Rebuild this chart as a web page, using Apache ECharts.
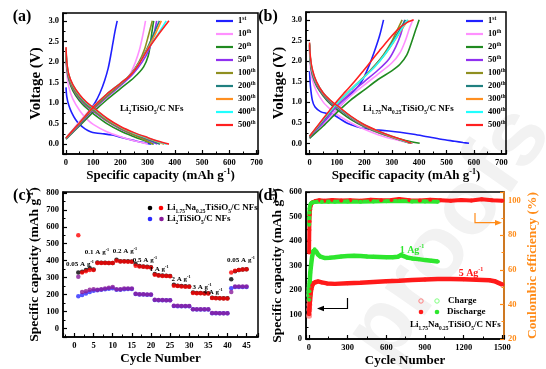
<!DOCTYPE html>
<html><head><meta charset="utf-8">
<script src="https://cdn.jsdelivr.net/npm/echarts@6/dist/echarts.min.js"></script>
<style>html,body{margin:0;padding:0;background:#fff}#c{width:546px;height:369px}</style>
</head><body><div id="c"></div>
<script>
// ---------- DATA ----------
const cycleNames = ['1st','10th','20th','50th','100th','200th','300th','400th','500th'];
// (a) Li2TiSiO5/C NFs  [capacity mAh/g, voltage V]
const a1d = [[0,1.38],[3,1.15],[10,0.95],[20,0.78],[35,0.6],[50,0.48],[70,0.37],[90,0.3],[110,0.27],[140,0.25],[170,0.22],[200,0.17],[230,0.12],[260,0.07],[290,0.03],[312,0.0]];
const a1c = [[0,0.15],[25,0.3],[51,0.5],[80,0.75],[106,1.0],[125,1.25],[142,1.55],[155,1.85],[164,2.15],[172,2.45],[180,2.75],[188,3.0]];
const a10d = [[0,2.05],[3,1.7],[10,1.4],[25,1.1],[50,0.82],[75,0.62],[100,0.48],[150,0.3],[200,0.18],[250,0.08],[285,0.03],[300,0.0]];
const a10c = [[0,0.15],[50,0.55],[100,0.92],[150,1.2],[200,1.45],[235,1.7],[255,2.0],[270,2.3],[282,2.65],[292,3.0]];
const a20d = [[0,2.2],[3,1.85],[10,1.58],[25,1.3],[50,1.05],[75,0.88],[100,0.74],[150,0.5],[200,0.32],[250,0.18],[290,0.08],[322,0.0]];
const a20c = [[0,0.12],[50,0.45],[100,0.78],[150,1.08],[200,1.35],[250,1.62],[285,1.88],[302,2.15],[310,2.45],[316,2.75],[322,3.0]];
const a50d = [[0,2.25],[3,1.9],[10,1.62],[25,1.35],[50,1.1],[75,0.93],[100,0.8],[150,0.56],[200,0.37],[250,0.22],[300,0.1],[335,0.0]];
const a50c = [[0,0.13],[50,0.48],[100,0.84],[150,1.14],[200,1.42],[245,1.7],[280,2.0],[305,2.3],[320,2.6],[333,3.0]];
const a100d = [[0,2.25],[3,1.9],[10,1.63],[25,1.37],[50,1.12],[75,0.95],[100,0.82],[150,0.57],[200,0.38],[250,0.22],[290,0.1],[318,0.0]];
const a100c = [[0,0.14],[50,0.5],[100,0.86],[150,1.17],[200,1.45],[240,1.72],[268,2.0],[288,2.3],[303,2.65],[317,3.0]];
const a200d = [[0,2.3],[3,1.95],[10,1.67],[25,1.41],[50,1.16],[75,0.98],[100,0.85],[150,0.6],[200,0.4],[250,0.25],[300,0.12],[345,0.0]];
const a200c = [[0,0.14],[50,0.5],[100,0.88],[150,1.2],[200,1.47],[238,1.7],[268,1.98],[296,2.3],[320,2.65],[343,3.0]];
const a300d = [[0,2.32],[3,1.97],[10,1.68],[25,1.43],[50,1.18],[75,1.0],[100,0.87],[150,0.61],[200,0.41],[250,0.26],[300,0.14],[335,0.06],[360,0.0]];
const a300c = [[0,0.15],[50,0.52],[100,0.9],[150,1.21],[200,1.48],[236,1.68],[266,1.95],[295,2.27],[322,2.6],[350,3.0]];
const a400d = [[0,2.33],[3,1.98],[10,1.69],[25,1.44],[50,1.19],[75,1.01],[100,0.88],[150,0.62],[200,0.42],[250,0.27],[300,0.15],[340,0.06],[370,0.0]];
const a400c = [[0,0.15],[50,0.52],[100,0.9],[150,1.22],[200,1.48],[235,1.67],[265,1.93],[295,2.25],[330,2.6],[368,3.0]];
const a500d = [[0,2.36],[3,2.0],[10,1.7],[25,1.45],[50,1.2],[75,1.02],[100,0.89],[150,0.63],[200,0.43],[250,0.28],[300,0.16],[340,0.07],[378,0.0]];
const a500c = [[0,0.15],[50,0.52],[100,0.9],[150,1.22],[200,1.48],[234,1.66],[265,1.92],[295,2.25],[332,2.6],[378,3.0]];
// (b) Li1.75Na0.25TiSiO5/C NFs
const b1d = [[0,1.75],[3,1.4],[10,1.05],[20,0.88],[40,0.77],[60,0.73],[85,0.7],[110,0.6],[140,0.48],[170,0.41],[200,0.36],[240,0.33],[290,0.3],[330,0.27],[380,0.22],[430,0.16],[480,0.1],[530,0.05],[560,0.02],[582,0.0]];
const b1c = [[0,0.15],[50,0.48],[100,0.82],[150,1.18],[190,1.5],[215,1.85],[235,2.2],[255,2.6],[270,3.0]];
const b10d = [[0,2.2],[3,1.85],[10,1.55],[25,1.27],[50,1.0],[75,0.83],[100,0.7],[150,0.5],[200,0.34],[250,0.21],[300,0.11],[345,0.04],[378,0.0]];
const b10c = [[0,0.13],[50,0.45],[100,0.82],[150,1.15],[200,1.42],[250,1.68],[300,1.95],[330,2.2],[350,2.5],[365,2.8],[377,3.0]];
const b20d = [[0,2.3],[3,1.95],[10,1.67],[25,1.4],[50,1.15],[75,0.96],[100,0.82],[150,0.58],[200,0.4],[250,0.26],[300,0.16],[350,0.07],[402,0.0]];
const b20c = [[0,0.12],[50,0.42],[100,0.75],[150,1.05],[200,1.3],[250,1.55],[300,1.76],[330,1.92],[355,2.15],[372,2.45],[387,2.75],[400,3.0]];
const b50d = [[0,2.35],[3,2.0],[10,1.7],[25,1.44],[50,1.18],[75,1.0],[100,0.87],[150,0.62],[200,0.42],[250,0.27],[300,0.15],[340,0.06],[370,0.0]];
const b50c = [[0,0.15],[50,0.52],[100,0.9],[150,1.22],[200,1.5],[250,1.78],[290,2.05],[315,2.35],[333,2.65],[347,3.0]];
const b100d = [[0,2.38],[3,2.02],[10,1.72],[25,1.46],[50,1.2],[75,1.02],[100,0.89],[150,0.63],[200,0.43],[250,0.27],[300,0.15],[340,0.06],[368,0.0]];
const b100c = [[0,0.16],[50,0.56],[100,0.96],[150,1.3],[200,1.62],[240,1.9],[270,2.15],[298,2.45],[320,2.75],[338,3.0]];
const b200d = [[0,2.4],[3,2.04],[10,1.74],[25,1.47],[50,1.21],[75,1.03],[100,0.9],[150,0.64],[200,0.44],[250,0.28],[300,0.16],[340,0.07],[372,0.0]];
const b200c = [[0,0.16],[50,0.56],[100,0.96],[150,1.3],[200,1.62],[240,1.9],[272,2.15],[302,2.45],[328,2.75],[350,3.0]];
const b300d = [[0,2.42],[3,2.06],[10,1.76],[25,1.48],[50,1.21],[75,1.04],[100,0.91],[150,0.65],[200,0.44],[250,0.29],[300,0.16],[340,0.07],[375,0.0]];
const b300c = [[0,0.17],[50,0.58],[100,0.97],[150,1.3],[200,1.62],[240,1.88],[274,2.15],[306,2.45],[335,2.75],[360,3.0]];
const b400d = [[0,2.43],[3,2.07],[10,1.77],[25,1.49],[50,1.22],[75,1.04],[100,0.91],[150,0.65],[200,0.45],[250,0.29],[300,0.17],[340,0.07],[373,0.0]];
const b400c = [[0,0.17],[50,0.58],[100,0.97],[150,1.3],[200,1.61],[240,1.87],[273,2.14],[305,2.45],[333,2.75],[358,3.0]];
const b500d = [[0,2.45],[3,2.1],[10,1.8],[25,1.5],[50,1.22],[75,1.05],[100,0.92],[150,0.66],[200,0.45],[250,0.3],[300,0.17],[340,0.08],[372,0.0]];
const b500c = [[0,0.17],[50,0.6],[97,1.0],[130,1.25],[164,1.5],[195,1.75],[225,2.0],[255,2.25],[286,2.5],[320,2.75],[352,2.92],[380,3.0]];
// (c) rate capability
const rateCycles = [1,2,3,4,5,6,7,8,9,10,11,12,13,14,15,16,17,18,19,20,21,22,23,24,25,26,27,28,29,30,31,32,33,34,35,36,37,38,39,40,41,42,43,44,45];
const lnChg = [330,335,345,355,348,390,388,388,387,387,405,397,396,396,395,380,368,366,364,362,322,314,312,311,310,258,252,250,249,248,212,209,209,208,208,182,180,179,179,178,290,338,345,348,350];
const lnDis = [550,330,338,345,345,386,386,386,386,386,400,395,395,394,394,370,366,364,362,360,317,312,310,309,308,252,250,248,247,247,210,208,208,207,207,180,178,178,177,177,330,340,345,348,350];
const ltChg = [190,198,207,215,222,225,228,232,235,238,228,228,232,233,233,203,200,200,199,199,168,167,166,166,166,133,132,132,132,132,113,112,112,112,112,90,90,90,90,90,238,245,245,245,245];
const ltDis = [305,215,220,228,232,228,232,236,240,245,232,232,236,236,236,205,202,202,201,200,170,168,168,167,167,135,134,133,133,133,114,114,113,113,113,91,91,90,90,90,215,248,248,248,248];
const rateLabels = ['0.05 A g','0.1 A g','0.2 A g','0.5 A g','1 A g','2 A g','3 A g','4 A g','0.05 A g'];
// (d) long cycling
const gCyc = [1,3,6,10,16,24,34,44,55,70,90,120,160,200,250,300,350,400,450,500,550,600,650,690,715,730,760,800,850,900,950,1000];
const gDis = [160,195,235,270,300,335,360,366,358,345,336,331,332,334,337,339,340,339,337,336,335,334,334,336,343,338,333,329,326,322,319,316];
const rCyc = [1,2,4,6,9,13,18,25,35,50,70,100,140,200,300,400,500,600,700,800,900,1000,1100,1200,1300,1400,1440,1470,1500];
const rDis = [100,112,128,145,165,185,203,218,228,234,235,231,227,225,228,230,233,236,238,241,243,245,245,244,242,240,236,229,222];
const gChgCyc = [1,2,4,6];
const gChg = [180,195,208,220];
const rChgCyc = [1,2,3,4,6];
const rChg = [95,120,140,158,176];
const gCeCyc = [1,2,3,5,8,12,18,25,40,60,100,150,200,300,400,500,600,700,800,900,1000];
const gCe = [86,90,93,95.5,97,98,98.6,99,99.2,99.3,99.4,99.3,99.4,99.5,99.4,99.5,99.6,99.8,99.5,99.5,99.4];
const rCeCyc = [1,2,3,4,6,9,13,20,30,50,80,120,180,250,320,400,480,560,640,700,780,860,940,1020,1100,1180,1260,1340,1420,1500];
const rCe = [70,77,83,88,92,95,97,98.5,99.2,99.8,100.2,99.9,100.4,100.1,100.3,99.9,100.5,100.2,100.4,101,100.3,100.1,100.5,100.2,99.9,100.4,100.1,100.8,100.2,99.9];

// ---------- STYLE ----------
const FONT = "'Liberation Serif', serif";
const colors = ['#2020ff','#ff90ff','#208a20','#9030f0','#8f8f20','#208080','#ff8f20','#20ffff','#ff2020'];
const RED = '#ff1a1a', GREEN = '#2ee62e', ORANGE = '#ff8c1a';
const zip = (xs, ys) => xs.map((x, i) => [x, ys[i]]);

function richFor(size, color) {
  return {
    sup: {fontSize: size*0.6, fontWeight:'bold', fontFamily: FONT, fill: color, color: color, verticalAlign:'top', lineHeight: size*0.6},
    sub: {fontSize: size*0.6, fontWeight:'bold', fontFamily: FONT, fill: color, color: color, verticalAlign:'bottom', lineHeight: size*0.6}
  };
}
function txt(x, y, text, size, color, align, rot) {
  color = color || '#000'; align = align || 'center';
  return {type:'text', x, y, z:50, rotation: rot || 0,
    style:{text, fill:color, font:`bold ${size}px ${FONT}`, textAlign:align, align:align,
      textVerticalAlign:'middle', verticalAlign:'middle', lineHeight: size*1.25, rich: richFor(size, color)}};
}
function hideOut(lo, hi, dec) {
  return v => (v < lo - 1e-9 || v > hi + 1e-9) ? '' : (dec ? v.toFixed(dec) : String(Math.round(v)));
}
function axis(o, color, nameSize) {
  color = color || '#000'; nameSize = nameSize || 13;
  const base = {
    type:'value', nameLocation:'middle',
    axisLine:{show:true, onZero:false, lineStyle:{color, width:1.5}},
    axisTick:{show:true, inside:true, length:4, lineStyle:{color, width:1.2}},
    minorTick:{show:true, splitNumber:2, length:2.5, lineStyle:{color, width:1}},
    splitLine:{show:false},
    axisLabel:{fontFamily:FONT, fontWeight:'bold', fontSize:8.5, color, margin:4},
    nameTextStyle:{fontFamily:FONT, fontWeight:'bold', fontSize:nameSize, color, lineHeight:nameSize+2,
      rich:{sup:{fontFamily:FONT, fontWeight:'bold', fontSize:nameSize*0.62, color, verticalAlign:'top', lineHeight:nameSize*0.62}}}
  };
  const r = Object.assign({}, base, o);
  if (o.axisLabel) r.axisLabel = Object.assign({}, base.axisLabel, o.axisLabel);
  return r;
}
const capName = 'Specific capacity (mAh g{sup|-1})';

const curveSets = [
  [[a1d,a1c],[a10d,a10c],[a20d,a20c],[a50d,a50c],[a100d,a100c],[a200d,a200c],[a300d,a300c],[a400d,a400c],[a500d,a500c]],
  [[b1d,b1c],[b10d,b10c],[b20d,b20c],[b50d,b50c],[b100d,b100c],[b200d,b200c],[b300d,b300c],[b400d,b400c],[b500d,b500c]]
];
const series = [];
curveSets.forEach((set, pi) => {
  set.forEach((pair, ci) => {
    pair.forEach(d => series.push({type:'line', name:cycleNames[ci], xAxisIndex:pi, yAxisIndex:pi, data:d,
      symbol:'none', showSymbol:false, smooth:0.3, lineStyle:{color:colors[ci], width:1.6}, itemStyle:{color:colors[ci]}, z:2+ci*0.01}));
  });
});
const sc = (data, color, extra) => Object.assign({type:'scatter', xAxisIndex:2, yAxisIndex:2, data, symbol:'circle', symbolSize:4.5, itemStyle:{color}}, extra || {});
series.push(sc(zip(rateCycles, lnChg), '#000'));
series.push(sc(zip(rateCycles, lnDis), '#ff0000'));
series.push(sc(zip(rateCycles, ltChg), '#2a2aff'));
series.push(sc(zip(rateCycles, ltDis), '#8a1a9a'));
// (d)
const band = (xs, ys, color, yi, w) => ({type:'line', xAxisIndex:3, yAxisIndex:yi, data:zip(xs, ys), symbol:'circle', symbolSize:4, showSymbol:true,
  lineStyle:{color, width:w}, itemStyle:{color}, z:3});
series.push(band(rCeCyc, rCe, RED, 4, 4));
series.push(band(gCeCyc, gCe, GREEN, 4, 4));
series.push({type:'scatter', xAxisIndex:3, yAxisIndex:3, data:zip(rChgCyc, rChg), symbol:'emptyCircle', symbolSize:4, itemStyle:{color:'#ff8080', borderColor:'#ff8080', borderWidth:1}, z:2});
series.push({type:'scatter', xAxisIndex:3, yAxisIndex:3, data:zip(gChgCyc, gChg), symbol:'emptyCircle', symbolSize:4, itemStyle:{color:'#80ff80', borderColor:'#80ff80', borderWidth:1}, z:2});
series.push(band(rCyc, rDis, RED, 3, 4.5));
series.push(band(gCyc, gDis, GREEN, 3, 4.5));

// ---------- GRAPHICS ----------
const graphic = [
  {type:'text', x:450, y:235, z:-10, rotation:55*Math.PI/180,
    style:{text:'proofs', fill:'#f2f2f2', font:"bold 92px 'Liberation Sans', sans-serif", textAlign:'center', align:'center', textVerticalAlign:'middle', verticalAlign:'middle'}},
  txt(22, 17, '(a)', 16), txt(268, 17, '(b)', 16), txt(22, 196, '(c)', 16), txt(268, 196, '(d)', 16),
  txt(120, 109, 'Li{sub|2}TiSiO{sub|5}/C NFs', 9, '#000', 'left'),
  txt(363, 109, 'Li{sub|1.75}Na{sub|0.25}TiSiO{sub|5}/C NFs', 9, '#000', 'left'),
  {type:'circle', shape:{cx:150, cy:208, r:2.3}, style:{fill:'#000'}, z:50},
  {type:'circle', shape:{cx:161, cy:208, r:2.3}, style:{fill:'#ff0000'}, z:50},
  txt(167, 208, 'Li{sub|1.75}Na{sub|0.25}TiSiO{sub|5}/C NFs', 9, '#000', 'left'),
  {type:'circle', shape:{cx:150, cy:219, r:2.3}, style:{fill:'#2a2aff'}, z:50},
  {type:'circle', shape:{cx:161.5, cy:219, r:2.3}, style:{fill:'#8a1a9a'}, z:50},
  txt(167, 219, 'Li{sub|2}TiSiO{sub|5}/C NFs', 9, '#000', 'left'),
  // (d) legend
  {type:'circle', shape:{cx:421, cy:301, r:2.2}, style:{fill:'none', stroke:'#ff8080', lineWidth:1}, z:50},
  {type:'circle', shape:{cx:437, cy:301, r:2.2}, style:{fill:'none', stroke:'#80ff80', lineWidth:1}, z:50},
  txt(448, 301, 'Charge', 9, '#000', 'left'),
  {type:'circle', shape:{cx:421, cy:312, r:2.3}, style:{fill:RED}, z:50},
  {type:'circle', shape:{cx:437, cy:312, r:2.3}, style:{fill:GREEN}, z:50},
  txt(447, 312, 'Discharge', 9, '#000', 'left'),
  txt(410, 325, 'Li{sub|1.75}Na{sub|0.25}TiSiO{sub|5}/C NFs', 9, '#000', 'left'),
  txt(412, 250, '1 Ag{sup|-1}', 10, GREEN),
  txt(471, 273, '5 Ag{sup|-1}', 10, RED),
  // arrows
  {type:'polyline', shape:{points:[[347.5,298],[347.5,308.5],[323,308.5]]}, style:{stroke:'#000', lineWidth:1.2, fill:'none'}, z:50},
  {type:'polygon', shape:{points:[[317,308.5],[324,305.8],[324,311.2]]}, style:{fill:'#000'}, z:50},
  {type:'polyline', shape:{points:[[475,213],[475,222.7],[496,222.7]]}, style:{stroke:ORANGE, lineWidth:1.2, fill:'none'}, z:50},
  {type:'polygon', shape:{points:[[502,222.7],[495,220],[495,225.4]]}, style:{fill:ORANGE}, z:50}
];
const ratePos = [[80,264],[97,252],[125,251],[145,260],[159,269],[181,279],[202,287],[213,292],[241,260]];
rateLabels.forEach((t, i) => graphic.push(txt(ratePos[i][0], ratePos[i][1], t + '{sup|-1}', 7)));

// ---------- OPTION ----------
const grid = (left, top, width, height) => ({left, top, width, height, show:true, borderColor:'#000', borderWidth:1.5, containLabel:false});
const legendCfg = (left) => ({data:cycleNames, orient:'vertical', left, top:16, padding:0, icon:'rect', itemWidth:17, itemHeight:2.2, itemGap:3,
  selectedMode:false, formatter: n => n.replace(/^(\d+)([a-z]+)$/, '$1{s|$2}'),
  textStyle:{fontFamily:FONT, fontWeight:'bold', fontSize:8.5, color:'#000', lineHeight:10,
    rich:{s:{fontFamily:FONT, fontWeight:'bold', fontSize:5.5, color:'#000', verticalAlign:'top', lineHeight:6}}}});

const option = {
  animation:false,
  backgroundColor:'#fff',
  grid:[grid(63,13,195,141), grid(306,12,200,142), grid(63,192,195,145), grid(306,192,198,147)],
  xAxis:[
    axis({gridIndex:0, min:-11, max:705, splitNumber:7, name:capName, nameGap:12, axisLabel:{formatter:hideOut(0,700)}}),
    axis({gridIndex:1, min:-13, max:717, splitNumber:7, name:capName, nameGap:12, axisLabel:{formatter:hideOut(0,700)}}),
    axis({gridIndex:2, min:-3, max:48, splitNumber:10, name:'Cycle Number', nameGap:10, axisLabel:{formatter:hideOut(0,45)}}),
    axis({gridIndex:3, min:-23, max:1513, splitNumber:5, name:'Cycle Number', nameGap:10, axisLabel:{formatter:hideOut(0,1500)}})
  ],
  yAxis:[
    axis({gridIndex:0, min:-0.24, max:3.19, splitNumber:7, name:'Voltage (V)', nameGap:15, axisLabel:{formatter:hideOut(0,3,1)}}, '#000', 15),
    axis({gridIndex:1, min:-0.26, max:3.19, splitNumber:7, name:'Voltage (V)', nameGap:15, axisLabel:{formatter:hideOut(0,3,1)}}, '#000', 15),
    axis({gridIndex:2, min:-50, max:805, splitNumber:8, name:capName, nameGap:17, axisLabel:{formatter:hideOut(0,800)}}, '#000', 13.5),
    axis({gridIndex:3, min:0, max:600, interval:100, name:capName, nameGap:16, axisLabel:{formatter:hideOut(0,600)}}, '#000', 13.5),
    axis({gridIndex:3, position:'right', min:20, max:105, interval:20, name:'Coulombic efficiency (%)', nameGap:14, axisLabel:{formatter:hideOut(20,100)}}, ORANGE, 13.5)
  ],
  legend:[legendCfg(216), legendCfg(466)],
  series,
  graphic
};
const chart = echarts.init(document.getElementById('c'), null, {renderer:'canvas'});
chart.setOption(option);
</script></body></html>
